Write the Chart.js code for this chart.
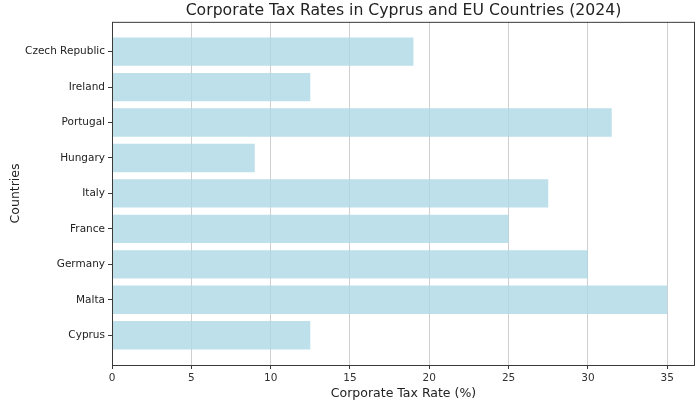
<!DOCTYPE html>
<html>
<head>
<meta charset="utf-8">
<script src="https://cdn.jsdelivr.net/npm/chart.js@4.4.1/dist/chart.umd.min.js"></script>
<style>
  html, body { margin: 0; padding: 0; background: #fff; }
  #wrap { width: 700px; height: 401px; }
</style>
</head>
<body>
<div id="wrap"><canvas id="mycanvas"></canvas></div>
<script>
// bottom to top, like the original plot
var countries = ['Cyprus', 'Malta', 'Germany', 'France', 'Italy', 'Hungary', 'Portugal', 'Ireland', 'Czech Republic'];
var taxRates = [12.5, 35, 30, 25, 27.5, 9, 31.5, 12.5, 19];
var xTicks = [0, 5, 10, 15, 20, 25, 30, 35];

var points = [];
for (var i in countries) {
    points.push({ x: taxRates[i], y: Number(i) });
}

// black frame around the plot area
var frame = {
    id: 'frame',
    afterDraw: function(chart) {
        var a = chart.chartArea, ctx = chart.ctx;
        ctx.save();
        ctx.strokeStyle = '#3a3a3a';
        ctx.lineWidth = 1;
        ctx.strokeRect(a.left + 0.5, a.top + 0.5, a.right - a.left - 1, a.bottom - a.top);
        ctx.restore();
    }
};

var ctx = document.getElementById('mycanvas');

var barGraph = new Chart(ctx, {
    type: 'bar',
    data: {
        datasets: [{
            data: points,
            backgroundColor: 'rgba(173, 216, 230, 0.8)',
            borderWidth: 0,
            barPercentage: 0.8,
            categoryPercentage: 1
        }]
    },
    plugins: [frame],
    options: {
        indexAxis: 'y',
        responsive: true,
        maintainAspectRatio: false,
        animation: false,
        layout: { padding: { left: 0, right: 5, top: 0, bottom: 0 } },
        plugins: {
            legend: { display: false },
            tooltip: { enabled: false },
            title: {
                display: true,
                fullSize: false,
                text: 'Corporate Tax Rates in Cyprus and EU Countries (2024)',
                color: '#222',
                font: { family: 'DejaVu Sans', size: 15.7, weight: 'normal' },
                padding: { top: 2, bottom: 1 }
            }
        },
        scales: {
            x: {
                type: 'linear',
                min: 0,
                max: 36.75,
                afterFit: function(s) { s.height = 36; },
                afterBuildTicks: function(s) {
                    s.ticks = xTicks.map(function(v) { return { value: v }; });
                },
                grid: {
                    color: '#cfcfcf',
                    tickColor: '#3a3a3a',
                    tickLength: 4,
                    drawTicks: true
                },
                border: { display: false },
                ticks: {
                    color: '#333',
                    padding: 3,
                    maxRotation: 0,
                    font: { family: 'DejaVu Sans', size: 10.5 }
                },
                title: {
                    display: true,
                    text: 'Corporate Tax Rate (%)',
                    color: '#222',
                    font: { family: 'DejaVu Sans', size: 12.5 },
                    padding: { top: 1, bottom: 0 }
                }
            },
            y: {
                type: 'linear',
                min: -0.84,
                max: 8.84,
                offset: false,
                afterFit: function(s) { s.width = 112; },
                afterBuildTicks: function(s) {
                    s.ticks = countries.map(function(c, i) { return { value: i }; });
                },
                grid: {
                    offset: false,
                    drawOnChartArea: false,
                    tickColor: '#3a3a3a',
                    tickLength: 4
                },
                border: { display: false },
                ticks: {
                    color: '#222',
                    padding: 3,
                    font: { family: 'DejaVu Sans', size: 10.5 },
                    callback: function(v) { return countries[v]; }
                },
                title: {
                    display: true,
                    text: 'Countries',
                    color: '#222',
                    font: { family: 'DejaVu Sans', size: 12.5 },
                    padding: { top: 8, bottom: 4 }
                }
            }
        }
    }
});
</script>
</body>
</html>
